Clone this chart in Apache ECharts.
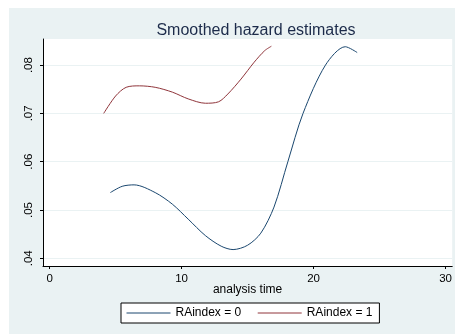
<!DOCTYPE html>
<html>
<head>
<meta charset="utf-8">
<script src="https://cdn.jsdelivr.net/npm/echarts@6/dist/echarts.min.js"></script>
<style>
  html, body { margin: 0; padding: 0; background: #fff; }
  #chart { width: 455px; height: 334px; }
</style>
</head>
<body>
<div id="chart"></div>
<script>
// RAindex = 0
const time0 = [4.6, 5.5, 6.4, 8.0, 9.3, 10.5, 11.8, 13.0, 13.9, 15.0, 16.0, 17.0, 18.05, 19.2, 20.9, 22.4, 23.3];
const hazard0 = [0.0536, 0.0549, 0.0552, 0.0536, 0.0512, 0.0481, 0.0447, 0.0425, 0.0418, 0.0427, 0.0452, 0.0506, 0.0600, 0.0700, 0.0800, 0.0838, 0.0826];

// RAindex = 1
const time1 = [4.1, 5.0, 5.8, 6.8, 8.0, 9.3, 10.5, 11.8, 12.8, 13.5, 14.5, 15.5, 16.3, 16.8];
const hazard1 = [0.0700, 0.0736, 0.0754, 0.0757, 0.0754, 0.0744, 0.0730, 0.0721, 0.0724, 0.0740, 0.0771, 0.0806, 0.0830, 0.0839];

const seriesNames = ['RAindex = 0', 'RAindex = 1'];
const xTicks = [0, 10, 20, 30];
const yTicks = [0.04, 0.05, 0.06, 0.07, 0.08];
const yTickLabels = ['.04', '.05', '.06', '.07', '.08'];

const font = 'Liberation Sans, Arial, sans-serif';

const chart = echarts.init(document.getElementById('chart'));

const option = {
    backgroundColor: '#ffffff',
    animation: false,
    graphic: [
        {
            type: 'rect',
            z: -10,
            shape: { x: 9, y: 8, width: 446, height: 326 },
            style: { fill: '#eaf2f3' },
        },
    ],
    title: {
        text: 'Smoothed hazard estimates',
        left: 251,
        top: 18,
        textAlign: 'center',
        textStyle: {
            fontFamily: font,
            fontSize: 16,
            fontWeight: 'normal',
            color: '#1c2b4a',
        },
    },
    grid: {
        left: 43,
        right: -1,
        top: 39,
        bottom: 68,
        show: true,
        backgroundColor: '#ffffff',
        borderWidth: 0,
    },
    legend: {
        data: seriesNames,
        left: 121,
        top: 303,
        itemWidth: 44,
        itemHeight: 14,
        itemGap: 16,
        padding: [4, 7, 4, 5],
        borderColor: '#000',
        borderWidth: 1,
        backgroundColor: '#fff',
        itemStyle: { opacity: 0 },
        lineStyle: { width: 1 },
        textStyle: {
            fontFamily: font,
            fontSize: 12,
            color: '#000',
        },
    },
    xAxis: {
        type: 'value',
        min: -0.5,
        max: 30.5,
        name: 'analysis time',
        nameLocation: 'middle',
        nameGap: 18,
        nameMoveOverlap: false,
        nameTextStyle: { fontFamily: font, fontSize: 12, color: '#000' },
        axisLine: { show: true, onZero: false, lineStyle: { color: '#000', width: 1 } },
        axisTick: { show: true, length: 3, customValues: xTicks, lineStyle: { color: '#000' } },
        axisLabel: {
            customValues: xTicks,
            margin: 7,
            fontFamily: font,
            fontSize: 11.5,
            color: '#000',
        },
        splitLine: { show: false },
    },
    yAxis: {
        type: 'value',
        min: 0.0384,
        max: 0.0854,
        axisLine: { show: true, onZero: false, lineStyle: { color: '#000', width: 1 } },
        axisTick: { show: true, length: 3, customValues: yTicks, lineStyle: { color: '#000' } },
        axisLabel: {
            customValues: yTicks,
            rotate: 90,
            margin: 8,
            fontFamily: font,
            fontSize: 11.5,
            color: '#000',
            formatter: function (v) {
                const i = yTicks.findIndex((t) => Math.abs(t - v) < 1e-9);
                return i >= 0 ? yTickLabels[i] : '';
            },
        },
        splitLine: { show: true, lineStyle: { color: '#eaf2f3', width: 1 } },
    },
    series: [
        {
            name: seriesNames[0],
            type: 'line',
            smooth: 0.3,
            symbol: 'none',
            color: '#1a476f',
            lineStyle: { width: 1, color: '#1a476f' },
            data: time0.map((t, i) => [t, hazard0[i]]),
        },
        {
            name: seriesNames[1],
            type: 'line',
            smooth: 0.3,
            symbol: 'none',
            color: '#90353b',
            lineStyle: { width: 1, color: '#90353b' },
            data: time1.map((t, i) => [t, hazard1[i]]),
        },
    ],
};

chart.setOption(option);
</script>
</body>
</html>
